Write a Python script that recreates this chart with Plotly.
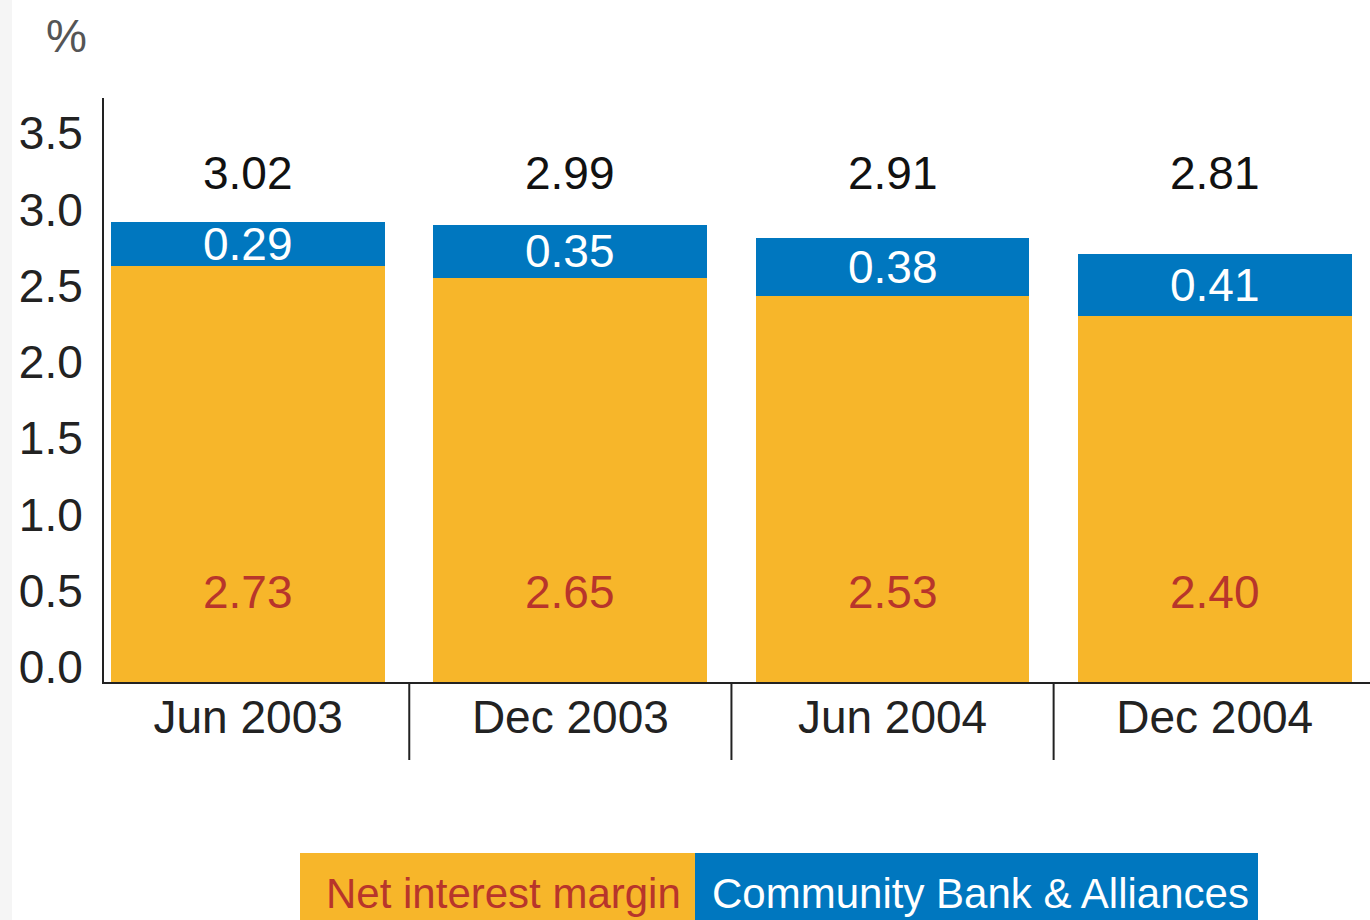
import plotly.graph_objects as go

# Half-year reporting periods
periods = ["Jun 2003", "Dec 2003", "Jun 2004", "Dec 2004"]

# Net interest margin split into its two components (%)
core_margin = [2.73, 2.65, 2.53, 2.40]
community_bank = [0.29, 0.35, 0.38, 0.41]
total_labels = ["3.02", "2.99", "2.91", "2.81"]

# y-axis ticks
y_ticks = [0.0, 0.5, 1.0, 1.5, 2.0, 2.5, 3.0, 3.5]
y_tick_text = ["0.0", "0.5", "1.0", "1.5", "2.0", "2.5", "3.0", "3.5"]

ORANGE = "#F7B62A"
BLUE = "#0077BF"
RED = "#B8352B"
FONT = "Liberation Sans, Arial, sans-serif"

fig = go.Figure()
fig.add_trace(go.Bar(x=periods, y=core_margin, name="Net interest margin",
                     marker=dict(color=ORANGE, line=dict(width=0)), hoverinfo="skip"))
fig.add_trace(go.Bar(x=periods, y=community_bank, name="Community Bank & Alliances",
                     marker=dict(color=BLUE, line=dict(width=0)), hoverinfo="skip"))

annotations = []
for i, p in enumerate(periods):
    # total above the stack
    annotations.append(dict(x=p, y=3.34, text=total_labels[i], showarrow=False,
                            font=dict(size=46, color="#111111", family=FONT),
                            xref="x", yref="y", xanchor="center", yanchor="middle"))
    # community bank component, centred in its segment
    annotations.append(dict(x=p, y=core_margin[i] + community_bank[i] / 2,
                            text=f"{community_bank[i]:.2f}", showarrow=False,
                            font=dict(size=46, color="white", family=FONT),
                            xref="x", yref="y", xanchor="center", yanchor="middle"))
    # core margin value near the base
    annotations.append(dict(x=p, y=0.59, text=f"{core_margin[i]:.2f}", showarrow=False,
                            font=dict(size=46, color=RED, family=FONT),
                            xref="x", yref="y", xanchor="center", yanchor="middle"))

# helpers to place items in pixel terms
L, R, T, B = 104, 1370, 98, 682
def px(xp):
    return (xp - L) / (R - L)
def py(yp):
    return (B - yp) / (B - T)

# unit label
annotations.append(dict(x=px(66), y=py(36), xref="paper", yref="paper", text="%",
                        showarrow=False, font=dict(size=46, color="#555555", family=FONT),
                        xanchor="center", yanchor="middle"))

shapes = []
# category separators below the axis
for k in range(len(periods) - 1):
    shapes.append(dict(type="line", xref="x", yref="paper", x0=k + 0.5, x1=k + 0.5,
                       y0=0, y1=py(760), line=dict(color="#222222", width=2)))
# legend boxes
shapes.append(dict(type="rect", xref="paper", yref="paper", x0=px(300), x1=px(695),
                   y0=py(930), y1=py(853), fillcolor=ORANGE, line=dict(width=0), layer="below"))
shapes.append(dict(type="rect", xref="paper", yref="paper", x0=px(695), x1=px(1258),
                   y0=py(930), y1=py(853), fillcolor=BLUE, line=dict(width=0), layer="below"))
# faint strip at left edge
shapes.append(dict(type="rect", xref="paper", yref="paper", x0=px(0), x1=px(12),
                   y0=py(920), y1=py(0), fillcolor="#f5f5f5", line=dict(width=0), layer="below"))

annotations.append(dict(x=px(503), y=py(893), xref="paper", yref="paper",
                        text="Net interest margin", showarrow=False,
                        font=dict(size=42, color=RED, family=FONT),
                        xanchor="center", yanchor="middle"))
annotations.append(dict(x=px(980), y=py(893), xref="paper", yref="paper",
                        text="Community Bank &amp; Alliances", showarrow=False,
                        font=dict(size=42, color="white", family=FONT),
                        xanchor="center", yanchor="middle"))

fig.update_layout(
    width=1370, height=920,
    margin=dict(l=L, r=0, t=T, b=920 - B, pad=0),
    barmode="stack", bargap=0.15,
    showlegend=False,
    plot_bgcolor="white", paper_bgcolor="white",
    font=dict(family=FONT, color="#222222"),
    annotations=annotations, shapes=shapes,
)
fig.update_xaxes(range=[-0.4475, 3.482], showline=True, linecolor="#222222", linewidth=2,
                 ticks="", showgrid=False, zeroline=False, ticklabelstandoff=-6,
                 tickfont=dict(size=46, color="#222222", family=FONT))
fig.update_yaxes(range=[0, 3.83], showline=True, linecolor="#222222", linewidth=2,
                 ticks="", showgrid=False, zeroline=False,
                 tickvals=y_ticks, ticktext=y_tick_text,
                 ticklabelshift=-15, ticklabelstandoff=10,
                 tickfont=dict(size=46, color="#222222", family=FONT))

fig.write_html("out.html")
